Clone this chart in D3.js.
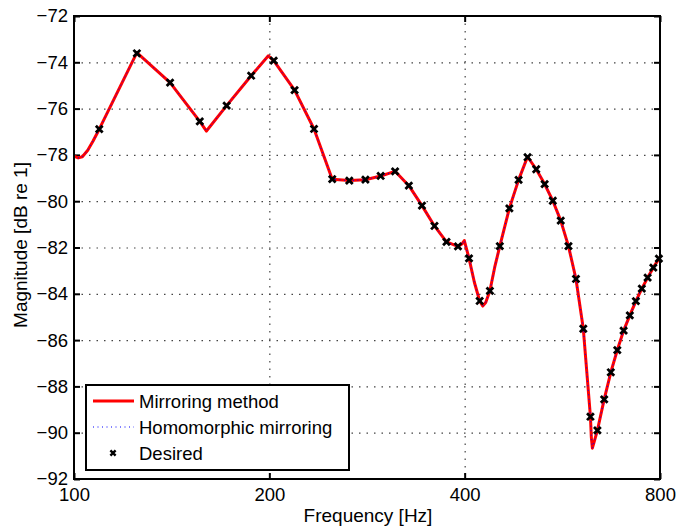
<!DOCTYPE html>
<html>
<head>
<meta charset="utf-8">
<script src="https://cdn.jsdelivr.net/npm/d3@7"></script>
<style>
  html, body { margin: 0; padding: 0; background: #fff; }
  svg { display: block; font-family: "Liberation Sans", Arial, Helvetica, sans-serif; }
</style>
</head>
<body>
<div id="chart"></div>
<script>
// ---- data ----
const xTicks = [100, 200, 400, 800];
const yTicks = [-92, -90, -88, -86, -84, -82, -80, -78, -76, -74, -72];

const seriesNames = ["Mirroring method", "Homomorphic mirroring", "Desired"];

const mirrorFreq = [100, 101.5, 103, 105, 107, 109.375, 125, 140.625, 156.25, 160, 171.875, 187.5, 199.3, 203.125, 218.75, 234.375, 250, 265.625, 281.25, 296.875, 312.5, 328.125, 343.75, 359.375, 375, 390.625, 396, 399.5, 406.25, 414, 421.875, 426.5, 431, 437.5, 445, 453.125, 468.75, 484.375, 500, 515.625, 531.25, 546.875, 562.5, 578.125, 593.75, 609.375, 625, 627, 629.3, 632.5, 640.625, 656.25, 671.875, 687.5, 703.125, 718.75, 734.375, 750, 765.625, 781.25, 796.875, 800];
const mirrorMag = [-78.05, -78.13, -78.08, -77.8, -77.4, -76.89, -73.58, -74.88, -76.55, -76.97, -75.87, -74.58, -73.72, -73.93, -75.20, -76.88, -79.05, -79.11, -79.07, -78.91, -78.71, -79.33, -80.19, -81.07, -81.76, -81.95, -81.85, -81.70, -82.47, -83.5, -84.31, -84.53, -84.38, -83.87, -82.85, -81.94, -80.31, -79.08, -78.08, -78.62, -79.26, -79.98, -80.84, -81.94, -83.36, -85.51, -89.31, -90.2, -90.67, -90.45, -89.90, -88.56, -87.39, -86.43, -85.59, -84.93, -84.32, -83.78, -83.30, -82.87, -82.48, -82.42];

const homoFreq = mirrorFreq.slice();
const homoMag = mirrorMag.slice();

const desiredFreq = [109.375, 125, 140.625, 156.25, 171.875, 187.5, 203.125, 218.75, 234.375, 250, 265.625, 281.25, 296.875, 312.5, 328.125, 343.75, 359.375, 375, 390.625, 406.25, 421.875, 437.5, 453.125, 468.75, 484.375, 500, 515.625, 531.25, 546.875, 562.5, 578.125, 593.75, 609.375, 625, 640.625, 656.25, 671.875, 687.5, 703.125, 718.75, 734.375, 750, 765.625, 781.25, 796.875];
const desiredMag = [-76.89, -73.61, -74.88, -76.55, -75.87, -74.58, -73.93, -75.20, -76.88, -79.05, -79.11, -79.07, -78.91, -78.71, -79.33, -80.19, -81.07, -81.76, -81.95, -82.47, -84.31, -83.87, -81.94, -80.31, -79.08, -78.10, -78.62, -79.26, -79.98, -80.84, -81.94, -83.36, -85.51, -89.31, -89.90, -88.56, -87.39, -86.43, -85.59, -84.93, -84.32, -83.78, -83.30, -82.87, -82.48];

// ---- layout ----
const W = 677, H = 528;
const m = { left: 74, top: 16, right: 17, bottom: 49 };
const iw = W - m.left - m.right, ih = H - m.top - m.bottom;

const svg = d3.select("#chart").append("svg").attr("width", W).attr("height", H);
const g = svg.append("g").attr("transform", `translate(${m.left},${m.top})`);

const x = d3.scaleLog().domain([100, 800]).range([0, iw]);
const y = d3.scaleLinear().domain([-92, -72]).range([ih, 0]);

// grid
const grid = g.append("g").attr("stroke", "#444").attr("stroke-width", 1.2).attr("stroke-dasharray", "1.5,6");
grid.selectAll("line.gy").data(yTicks.slice(1, -1)).join("line")
  .attr("x1", 0).attr("x2", iw).attr("y1", d => y(d) + 0.5).attr("y2", d => y(d) + 0.5);
grid.selectAll("line.gx").data(xTicks.slice(1, -1)).join("line")
  .attr("y1", 0).attr("y2", ih).attr("x1", d => x(d) + 0.5).attr("x2", d => x(d) + 0.5);

// axes
const fmt = d3.format("d");
const styleAxis = sel => {
  sel.select(".domain").remove();
  sel.selectAll(".tick line").attr("stroke", "#000").attr("stroke-width", 2);
  sel.selectAll(".tick text").attr("fill", "#000").style("font-size", "18.5px");
};
g.append("g").attr("transform", `translate(0,${ih})`)
  .call(d3.axisBottom(x).tickValues(xTicks).tickFormat(fmt).tickSize(-6).tickPadding(9)).call(styleAxis);
g.append("g")
  .call(d3.axisTop(x).tickValues(xTicks).tickFormat("").tickSize(-6)).call(styleAxis);
g.append("g")
  .call(d3.axisLeft(y).tickValues(yTicks).tickFormat(d3.format("d")).tickSize(-6).tickPadding(6)).call(styleAxis);
g.append("g").attr("transform", `translate(${iw},0)`)
  .call(d3.axisRight(y).tickValues(yTicks).tickFormat("").tickSize(-6)).call(styleAxis);

// lines
const line = d3.line().x(d => x(d[0])).y(d => y(d[1]));
const mirrorData = mirrorFreq.map((f, i) => [f, mirrorMag[i]]);
const homoData = homoFreq.map((f, i) => [f, homoMag[i]]);
const desiredData = desiredFreq.map((f, i) => [f, desiredMag[i]]);

const plot = g.append("g");
plot.append("path").datum(mirrorData).attr("d", line)
  .attr("fill", "none").attr("stroke", "#ff0000").attr("stroke-width", 3).attr("stroke-linejoin", "round");
plot.append("path").datum(homoData).attr("d", line)
  .attr("fill", "none").attr("stroke", "#0000ff").attr("stroke-width", 1).attr("stroke-dasharray", "1,3.5");

const xMark = s => `M${-s},${-s}L${s},${s}M${-s},${s}L${s},${-s}`;
plot.selectAll("path.mk").data(desiredData).join("path")
  .attr("class", "mk")
  .attr("transform", d => `translate(${x(d[0])},${y(d[1])})`)
  .attr("d", xMark(3.4)).attr("stroke", "#000").attr("stroke-width", 2.8).attr("fill", "none");

// frame
g.append("rect").attr("x", 0).attr("y", 0).attr("width", iw).attr("height", ih)
  .attr("fill", "none").attr("stroke", "#000").attr("stroke-width", 2);

// axis labels
svg.append("text").attr("x", 368).attr("y", 522).attr("text-anchor", "middle")
  .style("font-size", "19px").text("Frequency [Hz]");
svg.append("text").attr("transform", "translate(27,245) rotate(-90)").attr("text-anchor", "middle")
  .style("font-size", "19px").text("Magnitude [dB re 1]");

// legend
const lg = svg.append("g");
lg.append("rect").attr("x", 86).attr("y", 385).attr("width", 263).attr("height", 85)
  .attr("fill", "#fff").attr("stroke", "#000").attr("stroke-width", 2);
const rows = [401, 427, 453];
lg.append("line").attr("x1", 93).attr("x2", 134).attr("y1", rows[0]).attr("y2", rows[0])
  .attr("stroke", "#ff0000").attr("stroke-width", 3);
lg.append("line").attr("x1", 93).attr("x2", 134).attr("y1", rows[1]).attr("y2", rows[1])
  .attr("stroke", "#0000ff").attr("stroke-width", 1).attr("stroke-dasharray", "1,3.5");
lg.append("path").attr("transform", `translate(113,${rows[2]})`).attr("d", xMark(2.6))
  .attr("stroke", "#000").attr("stroke-width", 2.4);
lg.selectAll("text").data(seriesNames).join("text")
  .attr("x", 139).attr("y", (d, i) => rows[i] + 6.5)
  .style("font-size", "18.5px").text(d => d);
</script>
</body>
</html>
